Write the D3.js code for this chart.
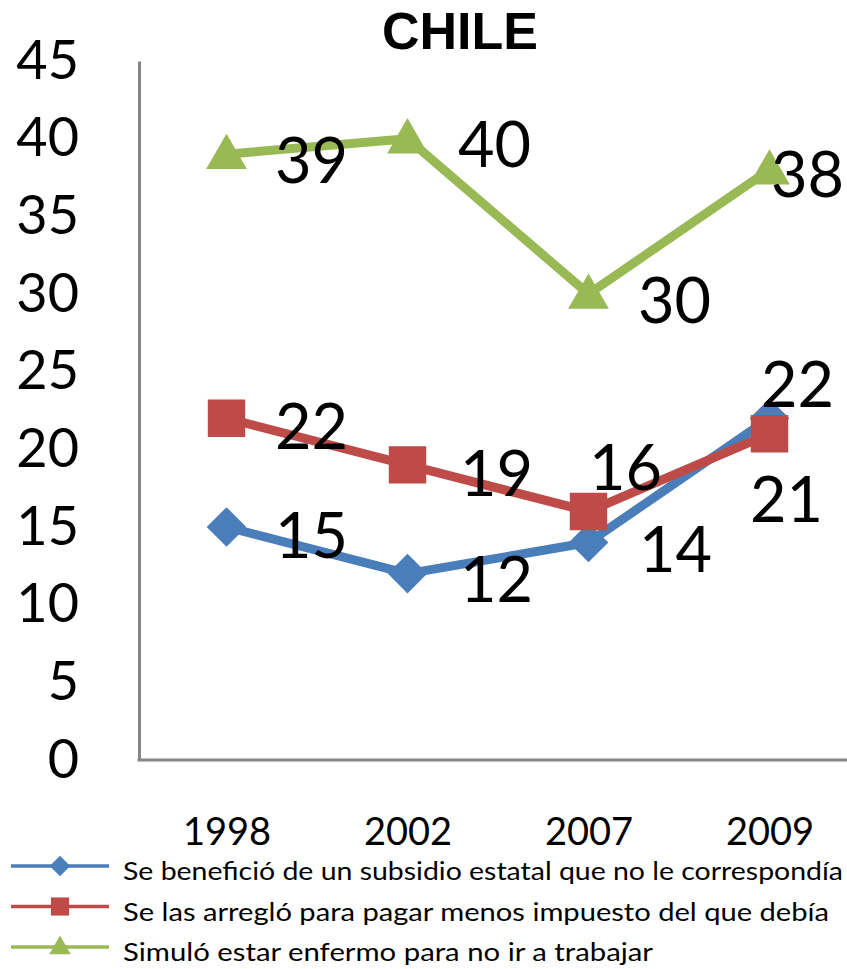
<!DOCTYPE html>
<html lang="es">
<head>
  <meta charset="UTF-8">
  <title>CHILE</title>
  <script src="https://d3js.org/d3.v7.min.js"></script>
  <style>
    body, html { margin: 0; padding: 0; background: #fff; }
    svg { display: block; }
  </style>
</head>
<body>
  <svg width="847" height="969"></svg>
  <script>
    // data
    let years = ["1998", "2002", "2007", "2009"];
    let subsidio = [15, 12, 14, 22];
    let impuesto = [22, 19, 16, 21];
    let enfermo = [39, 40, 30, 38];
    let seriesNames = [
      "Se benefició de un subsidio estatal que no le correspondía",
      "Se las arregló para pagar menos impuesto del que debía",
      "Simuló estar enfermo para no ir a trabajar"
    ];
    let yTicks = [0, 5, 10, 15, 20, 25, 30, 35, 40, 45];

    // label placement offsets (dx, dy from the point to the label centre)
    let labelOffsets = [
      [[85, 8], [89, 6], [87, 7], [28, -34]],
      [[85, 8], [89, 8], [37, -44], [17, 66]],
      [[85, 6], [87, 6], [86, 6], [38, 5]]
    ];
    let legendWidths = [720, 706, 530];

    let colors = ["#4A7EBB", "#BE4B48", "#98B954"];
    let symbols = [d3.symbolDiamond2, d3.symbolSquare, d3.symbolTriangle];

    let series = [subsidio, impuesto, enfermo].map((vals, i) => ({
      name: seriesNames[i],
      color: colors[i],
      symbol: symbols[i],
      offsets: labelOffsets[i],
      values: vals.map((v, j) => ({ year: years[j], value: v }))
    }));

    let svg = d3.select("svg");
    let numFont = "Lato, 'Open Sans', sans-serif";

    let x = d3.scalePoint()
      .domain(years)
      .range([136, 860])
      .padding(0.5);

    let y = d3.scaleLinear()
      .domain([0, 45])
      .range([760, 61]);

    let axisLeftX = 139;

    // title
    svg.append("text")
      .attr("x", 460)
      .attr("y", 49)
      .attr("text-anchor", "middle")
      .attr("font-family", "'Liberation Sans', Arial, sans-serif")
      .attr("font-weight", "bold")
      .attr("font-size", 52)
      .text("CHILE");

    // y axis
    let yAxis = svg.append("g")
      .attr("transform", `translate(${axisLeftX},0)`)
      .call(d3.axisLeft(y).tickValues(yTicks).tickSize(0).tickSizeOuter(0).tickPadding(60));
    yAxis.select(".domain").attr("stroke", "#868686").attr("stroke-width", 3);
    yAxis.selectAll("text")
      .attr("font-family", numFont)
      .attr("font-size", 54)
      .attr("fill", "#000");

    // x axis
    let xAxis = svg.append("g")
      .attr("transform", `translate(0,${y(0)})`)
      .call(d3.axisBottom(x).tickSize(0).tickPadding(58));
    xAxis.select(".domain").remove();
    xAxis.selectAll("text")
      .attr("font-family", numFont)
      .attr("font-size", 38)
      .attr("fill", "#000");
    svg.append("line")
      .attr("x1", axisLeftX - 1.5)
      .attr("x2", x.range()[1])
      .attr("y1", y(0))
      .attr("y2", y(0))
      .attr("stroke", "#868686")
      .attr("stroke-width", 3);

    let line = d3.line()
      .x(d => x(d.year))
      .y(d => y(d.value));

    let groups = svg.append("g").attr("class", "chart")
      .selectAll("g")
      .data(series)
      .enter()
      .append("g");

    groups.append("path")
      .attr("d", d => line(d.values))
      .attr("fill", "none")
      .attr("stroke", d => d.color)
      .attr("stroke-width", 9)
      .attr("stroke-linejoin", "round");

    groups.each(function (s) {
      let g = d3.select(this);
      let sym = d3.symbol().type(s.symbol).size(s.symbol === d3.symbolSquare ? 1400 : s.symbol === d3.symbolTriangle ? 720 : 1000);
      g.selectAll("path.marker")
        .data(s.values)
        .enter()
        .append("path")
        .attr("class", "marker")
        .attr("d", sym)
        .attr("transform", d => `translate(${x(d.year)},${y(d.value) + (s.symbol === d3.symbolTriangle ? 3 : 0)})`)
        .attr("fill", s.color);
    });

    // data labels, drawn above all lines
    let labelLayer = svg.append("g");
    series.forEach(s => {
      labelLayer.selectAll(null)
        .data(s.values)
        .enter()
        .append("text")
        .attr("x", (d, j) => x(d.year) + s.offsets[j][0])
        .attr("y", (d, j) => y(d.value) + s.offsets[j][1])
        .attr("dy", "0.36em")
        .attr("text-anchor", "middle")
        .attr("font-family", numFont)
        .attr("font-size", 63)
        .attr("fill", "#000")
        .text(d => d.value);
    });

    // legend
    let legend = svg.append("g")
      .selectAll("g")
      .data(series)
      .enter()
      .append("g")
      .attr("transform", (d, i) => `translate(0,${866 + i * 40.5})`);

    legend.append("line")
      .attr("x1", 11)
      .attr("x2", 109)
      .attr("stroke", d => d.color)
      .attr("stroke-width", 3.5);

    legend.append("path")
      .attr("d", d => d3.symbol().type(d.symbol)
        .size(d.symbol === d3.symbolSquare ? 330 : d.symbol === d3.symbolTriangle ? 200 : 270)())
      .attr("transform", d => `translate(60,${d.symbol === d3.symbolTriangle ? 1 : 0})`)
      .attr("fill", d => d.color);

    legend.append("text")
      .attr("x", 123)
      .attr("y", 14)
      .attr("font-family", numFont)
      .attr("font-size", 25)
      .attr("fill", "#000")
      .attr("textLength", (d, i) => legendWidths[i])
      .attr("lengthAdjust", "spacingAndGlyphs")
      .text(d => d.name);
  </script>
</body>
</html>
